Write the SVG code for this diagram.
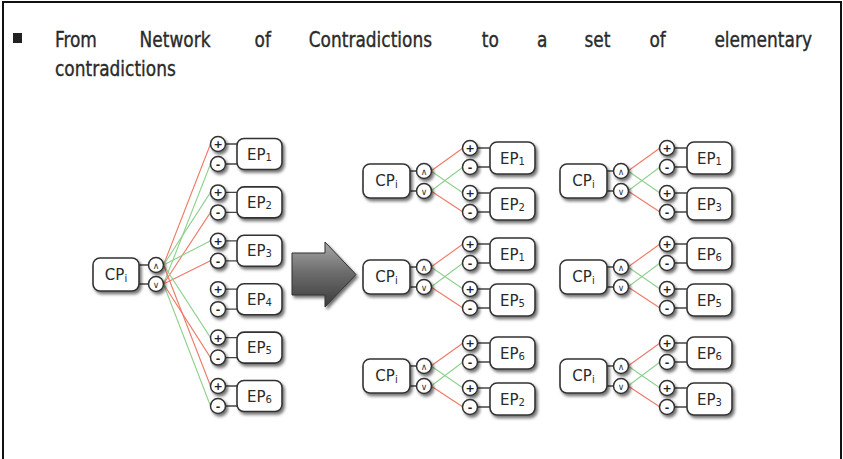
<svg xmlns="http://www.w3.org/2000/svg" width="843" height="459" viewBox="0 0 843 459">
  <defs>
    <filter id="shadow" x="-30%" y="-30%" width="170%" height="170%">
      <feDropShadow dx="2" dy="2.5" stdDeviation="1.6" flood-color="#000" flood-opacity="0.55"/>
    </filter>
    <linearGradient id="arrowFill" x1="0" y1="0" x2="0" y2="1">
      <stop offset="0" stop-color="#a8a8a8"/>
      <stop offset="0.45" stop-color="#6e6e6e"/>
      <stop offset="1" stop-color="#3c3c3c"/>
    </linearGradient>
    <style>
      .title { font-family: "DejaVu Sans Condensed", "DejaVu Sans", sans-serif; font-size: 21px; fill: #2a2a2a; stroke: #2a2a2a; stroke-width: 0.35; }
      .box { fill: #fff; stroke: #333; stroke-width: 1.6; filter: url(#shadow); }
      .dot { fill: #fff; stroke: #333; stroke-width: 1.5; filter: url(#shadow); }
      .lbl { font-family: "DejaVu Sans", "Liberation Sans", sans-serif; font-size: 15px; fill: #2a2a2a; text-anchor: middle; }
      .sub { font-size: 10px; }
      .sym { font-family: "DejaVu Sans", sans-serif; font-size: 11px; font-weight: bold; fill: #222; text-anchor: middle; }
      .op { font-family: "DejaVu Sans", sans-serif; font-size: 9px; fill: #333; text-anchor: middle; }
      .stub { stroke: #444; stroke-width: 1.3; fill: none; }
      .red { stroke: #f07866; stroke-width: 1.1; fill: none; }
      .green { stroke: #8ed08e; stroke-width: 1.1; fill: none; }
    </style>
  </defs>

  <rect width="843" height="459" fill="#fff"/>
  <!-- slide frame -->
  <path d="M3,459 V2 H841 V459" fill="none" stroke="#111" stroke-width="2"/>

  <!-- heading, set in a narrowed face and justified word by word -->
  <rect x="13" y="33" width="9" height="10" fill="#222"/>
  <g transform="scale(0.9,1)">
    <text class="title" y="47">
      <tspan x="61.1">From</tspan><tspan x="155.1">Network</tspan><tspan x="282.8">of</tspan><tspan x="343">Contradictions</tspan><tspan x="535.4">to</tspan><tspan x="596.6">a</tspan><tspan x="649.4">set</tspan><tspan x="721.6">of</tspan><tspan x="902.2" text-anchor="end">elementary</tspan>
    </text>
    <text class="title" x="61.1" y="76">contradictions</text>
  </g>

  <!-- connectors -->
  <g id="connectors">
    <g id="net-links">
      <path class="stub" d="M139,265 H148.5 M139,284 H148.5"/>
      <path class="stub" d="M225.5,144 H237 M225.5,164 H237 M225.5,192.4 H237 M225.5,212.4 H237 M225.5,240.8 H237 M225.5,260.8 H237 M225.5,289.2 H237 M225.5,309.2 H237 M225.5,337.6 H237 M225.5,357.6 H237 M225.5,386 H237 M225.5,406 H237"/>
      <line class="red" x1="163.5" y1="265" x2="210.5" y2="144"/>
      <line class="green" x1="163.5" y1="284" x2="210.5" y2="164"/>
      <line class="green" x1="163.5" y1="265" x2="210.5" y2="192.4"/>
      <line class="red" x1="163.5" y1="284" x2="210.5" y2="212.4"/>
      <line class="green" x1="163.5" y1="265" x2="210.5" y2="240.8"/>
      <line class="red" x1="163.5" y1="284" x2="210.5" y2="260.8"/>
      <line class="green" x1="163.5" y1="265" x2="210.5" y2="337.6"/>
      <line class="red" x1="163.5" y1="284" x2="210.5" y2="357.6"/>
      <line class="red" x1="163.5" y1="265" x2="210.5" y2="386"/>
      <line class="green" x1="163.5" y1="284" x2="210.5" y2="406"/>
    </g>
    <g id="pair-links">
      <g transform="translate(363,181)">
        <path class="stub" d="M47,-10 H53.5 M47,10 H53.5 M114.5,-33 H127 M114.5,-14 H127 M114.5,12 H127 M114.5,31 H127"/>
        <path class="red" d="M68,-10 L100,-33 M68,10 L100,31"/><path class="green" d="M68,-10 L100,12 M68,10 L100,-14"/>
      </g>
      <g transform="translate(363,277)">
        <path class="stub" d="M47,-10 H53.5 M47,10 H53.5 M114.5,-33 H127 M114.5,-14 H127 M114.5,12 H127 M114.5,31 H127"/>
        <path class="red" d="M68,-10 L100,-33 M68,10 L100,31"/><path class="green" d="M68,-10 L100,12 M68,10 L100,-14"/>
      </g>
      <g transform="translate(363,376)">
        <path class="stub" d="M47,-10 H53.5 M47,10 H53.5 M114.5,-33 H127 M114.5,-14 H127 M114.5,12 H127 M114.5,31 H127"/>
        <path class="red" d="M68,-10 L100,-33 M68,10 L100,31"/><path class="green" d="M68,-10 L100,12 M68,10 L100,-14"/>
      </g>
      <g transform="translate(560,181)">
        <path class="stub" d="M47,-10 H53.5 M47,10 H53.5 M114.5,-33 H127 M114.5,-14 H127 M114.5,12 H127 M114.5,31 H127"/>
        <path class="red" d="M68,-10 L100,-33 M68,10 L100,31"/><path class="green" d="M68,-10 L100,12 M68,10 L100,-14"/>
      </g>
      <g transform="translate(560,277)">
        <path class="stub" d="M47,-10 H53.5 M47,10 H53.5 M114.5,-33 H127 M114.5,-14 H127 M114.5,12 H127 M114.5,31 H127"/>
        <path class="red" d="M68,-10 L100,-33 M68,10 L100,31"/><path class="green" d="M68,-10 L100,12 M68,10 L100,-14"/>
      </g>
      <g transform="translate(560,376)">
        <path class="stub" d="M47,-10 H53.5 M47,10 H53.5 M114.5,-33 H127 M114.5,-14 H127 M114.5,12 H127 M114.5,31 H127"/>
        <path class="red" d="M68,-10 L100,-33 M68,10 L100,31"/><path class="green" d="M68,-10 L100,12 M68,10 L100,-14"/>
      </g>
    </g>
  </g>

  <!-- network of contradictions -->
  <g id="net">
    <g id="net-cp"><rect class="box" x="93" y="258" width="46" height="33" rx="7"/><text class="lbl" x="116" y="280">CP<tspan class="sub" dy="2">i</tspan></text></g>
    <g id="net-and"><circle class="dot" cx="156" cy="265" r="7.5"/><text class="op" x="156" y="268.5">∧</text></g>
    <g id="net-or"><circle class="dot" cx="156" cy="284" r="7.5"/><text class="op" x="156" y="287.5">∨</text></g>

    <g id="net-ep1"><rect class="box" x="237" y="138.5" width="45" height="31" rx="7"/><text class="lbl" x="259.5" y="159.5">EP<tspan class="sub" dy="1">1</tspan></text>
      <circle class="dot" cx="218" cy="144" r="7.5"/><text class="sym" x="218" y="148">+</text>
      <circle class="dot" cx="218" cy="164" r="7.5"/><text class="sym" x="218" y="168">-</text></g>
    <g id="net-ep2"><rect class="box" x="237" y="186.9" width="45" height="31" rx="7"/><text class="lbl" x="259.5" y="207.9">EP<tspan class="sub" dy="1">2</tspan></text>
      <circle class="dot" cx="218" cy="192.4" r="7.5"/><text class="sym" x="218" y="196.4">+</text>
      <circle class="dot" cx="218" cy="212.4" r="7.5"/><text class="sym" x="218" y="216.4">-</text></g>
    <g id="net-ep3"><rect class="box" x="237" y="235.3" width="45" height="31" rx="7"/><text class="lbl" x="259.5" y="256.3">EP<tspan class="sub" dy="1">3</tspan></text>
      <circle class="dot" cx="218" cy="240.8" r="7.5"/><text class="sym" x="218" y="244.8">+</text>
      <circle class="dot" cx="218" cy="260.8" r="7.5"/><text class="sym" x="218" y="264.8">-</text></g>
    <g id="net-ep4"><rect class="box" x="237" y="283.7" width="45" height="31" rx="7"/><text class="lbl" x="259.5" y="304.7">EP<tspan class="sub" dy="1">4</tspan></text>
      <circle class="dot" cx="218" cy="289.2" r="7.5"/><text class="sym" x="218" y="293.2">+</text>
      <circle class="dot" cx="218" cy="309.2" r="7.5"/><text class="sym" x="218" y="313.2">-</text></g>
    <g id="net-ep5"><rect class="box" x="237" y="332.1" width="45" height="31" rx="7"/><text class="lbl" x="259.5" y="353.1">EP<tspan class="sub" dy="1">5</tspan></text>
      <circle class="dot" cx="218" cy="337.6" r="7.5"/><text class="sym" x="218" y="341.6">+</text>
      <circle class="dot" cx="218" cy="357.6" r="7.5"/><text class="sym" x="218" y="361.6">-</text></g>
    <g id="net-ep6"><rect class="box" x="237" y="380.5" width="45" height="31" rx="7"/><text class="lbl" x="259.5" y="401.5">EP<tspan class="sub" dy="1">6</tspan></text>
      <circle class="dot" cx="218" cy="386" r="7.5"/><text class="sym" x="218" y="390">+</text>
      <circle class="dot" cx="218" cy="406" r="7.5"/><text class="sym" x="218" y="410">-</text></g>
  </g>

  <!-- transformation arrow -->
  <g id="big-arrow">
    <polygon points="292,253 325,253 325,242 356,274.5 325,307 325,295 292,295" fill="url(#arrowFill)" stroke="#333" stroke-width="1" filter="url(#shadow)"/>
  </g>

  <!-- elementary contradiction pairs -->
  <g id="pair-1-2" transform="translate(363,181)">
    <g id="p12-cp"><rect class="box" x="0" y="-17" width="47" height="34" rx="7"/><text class="lbl" x="23.5" y="5">CP<tspan class="sub" dy="2">i</tspan></text></g>
    <g id="p12-and"><circle class="dot" cx="61" cy="-10" r="7.5"/><text class="op" x="61" y="-6.5">∧</text></g>
    <g id="p12-or"><circle class="dot" cx="61" cy="10" r="7.5"/><text class="op" x="61" y="13.5">∨</text></g>
    <g id="p12-epa"><rect class="box" x="127" y="-39" width="45" height="32" rx="7"/><text class="lbl" x="149.5" y="-17.5">EP<tspan class="sub" dy="1">1</tspan></text>
      <circle class="dot" cx="107" cy="-33" r="7.5"/><text class="sym" x="107" y="-29">+</text>
      <circle class="dot" cx="107" cy="-14" r="7.5"/><text class="sym" x="107" y="-10">-</text></g>
    <g id="p12-epb"><rect class="box" x="127" y="7" width="45" height="32" rx="7"/><text class="lbl" x="149.5" y="28.5">EP<tspan class="sub" dy="1">2</tspan></text>
      <circle class="dot" cx="107" cy="12" r="7.5"/><text class="sym" x="107" y="16">+</text>
      <circle class="dot" cx="107" cy="31" r="7.5"/><text class="sym" x="107" y="35">-</text></g>
  </g>

  <g id="pair-1-5" transform="translate(363,277)">
    <g id="p15-cp"><rect class="box" x="0" y="-17" width="47" height="34" rx="7"/><text class="lbl" x="23.5" y="5">CP<tspan class="sub" dy="2">i</tspan></text></g>
    <g id="p15-and"><circle class="dot" cx="61" cy="-10" r="7.5"/><text class="op" x="61" y="-6.5">∧</text></g>
    <g id="p15-or"><circle class="dot" cx="61" cy="10" r="7.5"/><text class="op" x="61" y="13.5">∨</text></g>
    <g id="p15-epa"><rect class="box" x="127" y="-39" width="45" height="32" rx="7"/><text class="lbl" x="149.5" y="-17.5">EP<tspan class="sub" dy="1">1</tspan></text>
      <circle class="dot" cx="107" cy="-33" r="7.5"/><text class="sym" x="107" y="-29">+</text>
      <circle class="dot" cx="107" cy="-14" r="7.5"/><text class="sym" x="107" y="-10">-</text></g>
    <g id="p15-epb"><rect class="box" x="127" y="7" width="45" height="32" rx="7"/><text class="lbl" x="149.5" y="28.5">EP<tspan class="sub" dy="1">5</tspan></text>
      <circle class="dot" cx="107" cy="12" r="7.5"/><text class="sym" x="107" y="16">+</text>
      <circle class="dot" cx="107" cy="31" r="7.5"/><text class="sym" x="107" y="35">-</text></g>
  </g>

  <g id="pair-6-2" transform="translate(363,376)">
    <g id="p62-cp"><rect class="box" x="0" y="-17" width="47" height="34" rx="7"/><text class="lbl" x="23.5" y="5">CP<tspan class="sub" dy="2">i</tspan></text></g>
    <g id="p62-and"><circle class="dot" cx="61" cy="-10" r="7.5"/><text class="op" x="61" y="-6.5">∧</text></g>
    <g id="p62-or"><circle class="dot" cx="61" cy="10" r="7.5"/><text class="op" x="61" y="13.5">∨</text></g>
    <g id="p62-epa"><rect class="box" x="127" y="-39" width="45" height="32" rx="7"/><text class="lbl" x="149.5" y="-17.5">EP<tspan class="sub" dy="1">6</tspan></text>
      <circle class="dot" cx="107" cy="-33" r="7.5"/><text class="sym" x="107" y="-29">+</text>
      <circle class="dot" cx="107" cy="-14" r="7.5"/><text class="sym" x="107" y="-10">-</text></g>
    <g id="p62-epb"><rect class="box" x="127" y="7" width="45" height="32" rx="7"/><text class="lbl" x="149.5" y="28.5">EP<tspan class="sub" dy="1">2</tspan></text>
      <circle class="dot" cx="107" cy="12" r="7.5"/><text class="sym" x="107" y="16">+</text>
      <circle class="dot" cx="107" cy="31" r="7.5"/><text class="sym" x="107" y="35">-</text></g>
  </g>

  <g id="pair-1-3" transform="translate(560,181)">
    <g id="p13-cp"><rect class="box" x="0" y="-17" width="47" height="34" rx="7"/><text class="lbl" x="23.5" y="5">CP<tspan class="sub" dy="2">i</tspan></text></g>
    <g id="p13-and"><circle class="dot" cx="61" cy="-10" r="7.5"/><text class="op" x="61" y="-6.5">∧</text></g>
    <g id="p13-or"><circle class="dot" cx="61" cy="10" r="7.5"/><text class="op" x="61" y="13.5">∨</text></g>
    <g id="p13-epa"><rect class="box" x="127" y="-39" width="45" height="32" rx="7"/><text class="lbl" x="149.5" y="-17.5">EP<tspan class="sub" dy="1">1</tspan></text>
      <circle class="dot" cx="107" cy="-33" r="7.5"/><text class="sym" x="107" y="-29">+</text>
      <circle class="dot" cx="107" cy="-14" r="7.5"/><text class="sym" x="107" y="-10">-</text></g>
    <g id="p13-epb"><rect class="box" x="127" y="7" width="45" height="32" rx="7"/><text class="lbl" x="149.5" y="28.5">EP<tspan class="sub" dy="1">3</tspan></text>
      <circle class="dot" cx="107" cy="12" r="7.5"/><text class="sym" x="107" y="16">+</text>
      <circle class="dot" cx="107" cy="31" r="7.5"/><text class="sym" x="107" y="35">-</text></g>
  </g>

  <g id="pair-6-5" transform="translate(560,277)">
    <g id="p65-cp"><rect class="box" x="0" y="-17" width="47" height="34" rx="7"/><text class="lbl" x="23.5" y="5">CP<tspan class="sub" dy="2">i</tspan></text></g>
    <g id="p65-and"><circle class="dot" cx="61" cy="-10" r="7.5"/><text class="op" x="61" y="-6.5">∧</text></g>
    <g id="p65-or"><circle class="dot" cx="61" cy="10" r="7.5"/><text class="op" x="61" y="13.5">∨</text></g>
    <g id="p65-epa"><rect class="box" x="127" y="-39" width="45" height="32" rx="7"/><text class="lbl" x="149.5" y="-17.5">EP<tspan class="sub" dy="1">6</tspan></text>
      <circle class="dot" cx="107" cy="-33" r="7.5"/><text class="sym" x="107" y="-29">+</text>
      <circle class="dot" cx="107" cy="-14" r="7.5"/><text class="sym" x="107" y="-10">-</text></g>
    <g id="p65-epb"><rect class="box" x="127" y="7" width="45" height="32" rx="7"/><text class="lbl" x="149.5" y="28.5">EP<tspan class="sub" dy="1">5</tspan></text>
      <circle class="dot" cx="107" cy="12" r="7.5"/><text class="sym" x="107" y="16">+</text>
      <circle class="dot" cx="107" cy="31" r="7.5"/><text class="sym" x="107" y="35">-</text></g>
  </g>

  <g id="pair-6-3" transform="translate(560,376)">
    <g id="p63-cp"><rect class="box" x="0" y="-17" width="47" height="34" rx="7"/><text class="lbl" x="23.5" y="5">CP<tspan class="sub" dy="2">i</tspan></text></g>
    <g id="p63-and"><circle class="dot" cx="61" cy="-10" r="7.5"/><text class="op" x="61" y="-6.5">∧</text></g>
    <g id="p63-or"><circle class="dot" cx="61" cy="10" r="7.5"/><text class="op" x="61" y="13.5">∨</text></g>
    <g id="p63-epa"><rect class="box" x="127" y="-39" width="45" height="32" rx="7"/><text class="lbl" x="149.5" y="-17.5">EP<tspan class="sub" dy="1">6</tspan></text>
      <circle class="dot" cx="107" cy="-33" r="7.5"/><text class="sym" x="107" y="-29">+</text>
      <circle class="dot" cx="107" cy="-14" r="7.5"/><text class="sym" x="107" y="-10">-</text></g>
    <g id="p63-epb"><rect class="box" x="127" y="7" width="45" height="32" rx="7"/><text class="lbl" x="149.5" y="28.5">EP<tspan class="sub" dy="1">3</tspan></text>
      <circle class="dot" cx="107" cy="12" r="7.5"/><text class="sym" x="107" y="16">+</text>
      <circle class="dot" cx="107" cy="31" r="7.5"/><text class="sym" x="107" y="35">-</text></g>
  </g>
</svg>
